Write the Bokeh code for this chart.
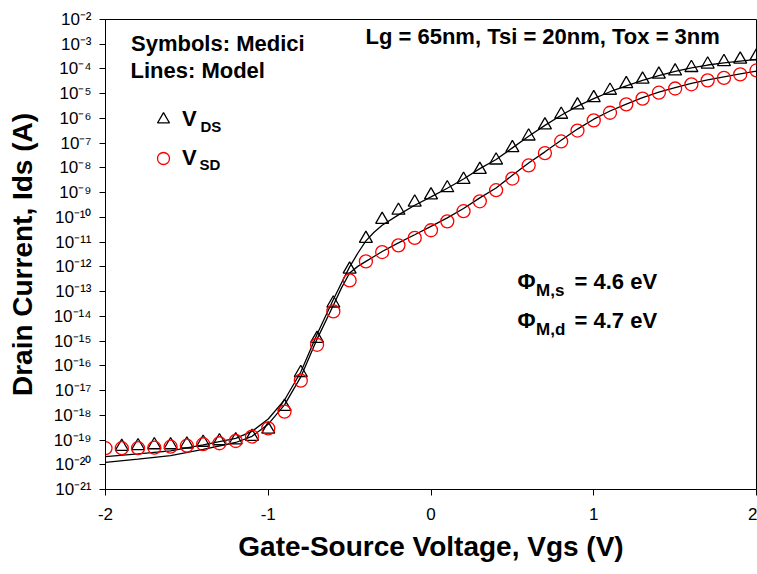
import numpy as np
from bokeh.plotting import figure
from bokeh.models import (FixedTicker, Label, Legend, LegendItem, Range1d,
                          CustomJSTickFormatter)
from bokeh.embed import file_html
from bokeh.resources import INLINE

# ---------------- data ----------------
# Medici symbols: V_DS (triangles)
vgs_ds = [-1.9, -1.8, -1.7, -1.6, -1.5, -1.4, -1.3, -1.2, -1.1, -1.0,
          -0.9, -0.8, -0.7, -0.6, -0.5, -0.4, -0.3, -0.2, -0.1, 0.0,
          0.1, 0.2, 0.3, 0.4, 0.5, 0.6, 0.7, 0.8, 0.9, 1.0,
          1.1, 1.2, 1.3, 1.4, 1.5, 1.6, 1.7, 1.8, 1.9, 2.0]
log10_ids_ds = [-19.27, -19.24, -19.20, -19.20, -19.17, -19.10, -19.04, -19.00, -18.86, -18.57,
                -17.65, -16.28, -14.90, -13.47, -12.10, -10.86, -10.09, -9.72, -9.39, -9.10,
                -8.81, -8.47, -8.07, -7.69, -7.19, -6.72, -6.27, -5.84, -5.46, -5.17,
                -4.87, -4.60, -4.42, -4.22, -4.09, -3.95, -3.81, -3.71, -3.61, -3.48]

# Medici symbols: V_SD (circles)
vgs_sd = [-2.0, -1.9, -1.8, -1.7, -1.6, -1.5, -1.4, -1.3, -1.2, -1.1, -1.0,
          -0.9, -0.8, -0.7, -0.6, -0.5, -0.4, -0.3, -0.2, -0.1, 0.0,
          0.1, 0.2, 0.3, 0.4, 0.5, 0.6, 0.7, 0.8, 0.9, 1.0,
          1.1, 1.2, 1.3, 1.4, 1.5, 1.6, 1.7, 1.8, 1.9, 2.0]
log10_ids_sd = [-19.33, -19.33, -19.33, -19.31, -19.27, -19.23, -19.17, -19.13, -19.04, -18.86, -18.53,
                -17.85, -16.60, -15.15, -13.80, -12.55, -11.78, -11.40, -11.13, -10.83, -10.52,
                -10.16, -9.75, -9.35, -8.90, -8.43, -7.90, -7.40, -6.93, -6.49, -6.08,
                -5.77, -5.43, -5.20, -4.96, -4.79, -4.62, -4.46, -4.36, -4.22, -4.06]

# Model lines
model_vgs = [-2.0, -1.8, -1.6, -1.4, -1.2, -1.1, -1.0, -0.9, -0.8, -0.7,
             -0.6, -0.55, -0.5, -0.45, -0.4, -0.35, -0.3, -0.2, -0.1, 0.0,
             0.1, 0.2, 0.3, 0.4, 0.5, 0.6, 0.7, 0.8, 0.9, 1.0,
             1.1, 1.2, 1.3, 1.4, 1.5, 1.6, 1.7, 1.8, 1.9, 2.0]
model_log10_ds = [-19.67, -19.56, -19.44, -19.20, -18.93, -18.65, -18.15, -17.38, -16.25, -14.72,
                  -13.32, -12.65, -12.00, -11.45, -10.95, -10.60, -10.32, -9.90, -9.51, -9.17,
                  -8.82, -8.45, -8.03, -7.66, -7.19, -6.72, -6.28, -5.87, -5.50, -5.20,
                  -4.92, -4.68, -4.46, -4.27, -4.10, -3.96, -3.84, -3.75, -3.68, -3.61]
model_log10_sd = [-19.90, -19.77, -19.63, -19.38, -19.10, -18.85, -18.36, -17.58, -16.45, -14.92,
                  -13.55, -12.85, -12.25, -11.98, -11.78, -11.58, -11.38, -11.03, -10.70, -10.36,
                  -10.02, -9.64, -9.21, -8.81, -8.30, -7.80, -7.35, -6.88, -6.43, -6.03,
                  -5.70, -5.42, -5.16, -4.94, -4.75, -4.58, -4.44, -4.32, -4.20, -4.09]

x_ticks = [-2, -1, 0, 1, 2]
x_tick_labels = ["-2", "-1", "0", "1", "2"]
y_exponents = [-21, -20, -19, -18, -17, -16, -15, -14, -13, -12,
               -11, -10, -9, -8, -7, -6, -5, -4, -3, -2]
y_tick_labels = ["10⁻²¹", "10⁻²⁰", "10⁻¹⁹", "10⁻¹⁸", "10⁻¹⁷", "10⁻¹⁶", "10⁻¹⁵",
                 "10⁻¹⁴", "10⁻¹³", "10⁻¹²", "10⁻¹¹", "10⁻¹⁰", "10⁻⁹", "10⁻⁸",
                 "10⁻⁷", "10⁻⁶", "10⁻⁵", "10⁻⁴", "10⁻³", "10⁻²"]

# currents in A from the read decades
ids_ds = 10.0 ** np.array(log10_ids_ds)
ids_sd = 10.0 ** np.array(log10_ids_sd)
model_ids_ds = 10.0 ** np.array(model_log10_ds)
model_ids_sd = 10.0 ** np.array(model_log10_sd)
y_ticks = [10.0 ** e for e in y_exponents]

FONT = "Liberation Sans"

p = figure(width=757, height=574, output_backend="svg", toolbar_location=None,
           y_axis_type="log",
           x_range=Range1d(-2, 2), y_range=Range1d(10.0 ** -21, 10.0 ** -2),
           min_border_left=105, min_border_right=1, min_border_top=19,
           min_border_bottom=85)
p.grid.visible = False
p.outline_line_color = "black"
p.outline_line_width = 1
p.background_fill_color = "white"
p.border_fill_color = "white"

# axes
p.xaxis.ticker = FixedTicker(ticks=x_ticks)
p.xaxis.formatter = CustomJSTickFormatter(
    args=dict(vals=x_ticks, labels=x_tick_labels),
    code="""
const i = vals.indexOf(Math.round(tick));
return i >= 0 ? labels[i] : "";
""")
p.yaxis.ticker = FixedTicker(ticks=y_ticks)
p.yaxis.formatter = CustomJSTickFormatter(
    args=dict(exps=y_exponents, labels=y_tick_labels),
    code="""
const e = Math.round(Math.log10(tick));
const i = exps.indexOf(e);
return i >= 0 ? labels[i] : "";
""")
for ax in (p.xaxis[0], p.yaxis[0]):
    ax.axis_line_color = "black"
    ax.axis_line_width = 1
    ax.major_tick_line_color = "black"
    ax.major_tick_in = 0
    ax.major_tick_out = 6
    ax.minor_tick_line_color = None
    ax.major_label_text_font = FONT
    ax.major_label_text_font_size = "17px"
    ax.major_label_text_color = "black"
    ax.axis_label_text_font = FONT
    ax.axis_label_text_font_style = "bold"
    ax.axis_label_text_font_size = "28px"
    ax.axis_label_text_color = "black"

p.xaxis.axis_label = "Gate-Source Voltage, Vgs (V)"
p.yaxis.axis_label = "Drain Current, Ids (A)"
p.xaxis.major_label_standoff = 12
p.xaxis.axis_label_standoff = 8
p.yaxis.major_label_text_align = "left"
p.yaxis.major_label_standoff = 8
p.yaxis.axis_label_standoff = 13

# model lines
p.line(model_vgs, model_ids_ds, line_color="black", line_width=1.3)
p.line(model_vgs, model_ids_sd, line_color="black", line_width=1.3)

# Medici symbols
r_ds = p.scatter(vgs_ds, ids_ds, marker="triangle", size=13,
                 line_color="black", fill_color=None, line_width=1.3)
r_sd = p.scatter(vgs_sd, ids_sd, marker="circle", size=13,
                 line_color="#ff0000", fill_color=None, line_width=1.3)

legend = Legend(items=[LegendItem(label="V", renderers=[r_ds]),
                       LegendItem(label="V", renderers=[r_sd])],
                location=(43, 316), orientation="vertical",
                glyph_width=30, glyph_height=30, label_standoff=4,
                spacing=9, padding=0, margin=0,
                border_line_color=None, background_fill_alpha=0,
                label_text_font=FONT, label_text_font_style="bold",
                label_text_font_size="22px", label_text_color="black")
p.add_layout(legend)


def add_text(txt, sx, sy, size, p=p):
    p.add_layout(Label(x=sx, y=sy, x_units="screen", y_units="screen",
                       text=txt, text_font=FONT, text_font_style="bold",
                       text_font_size=size, text_color="black",
                       text_baseline="alphabetic", text_align="left"))


add_text("Symbols: Medici", 25.5, 446, "22px")
add_text("Lines: Model", 25, 419.3, "22px")
add_text("Lg = 65nm, Tsi = 20nm, Tox = 3nm", 260, 452.6, "22px")
add_text("DS", 95, 363.2, "15px")
add_text("SD", 94, 325, "15px")
add_text("Φ", 412, 207.6, "22px")
add_text("M,s", 430.5, 198.6, "17px")
add_text("= 4.6 eV", 469, 207.6, "22px")
add_text("Φ", 412, 169.3, "22px")
add_text("M,d", 430.5, 159.6, "17px")
add_text("= 4.7 eV", 469, 169.3, "22px")

open("out.html", "w").write(file_html(p, INLINE))
